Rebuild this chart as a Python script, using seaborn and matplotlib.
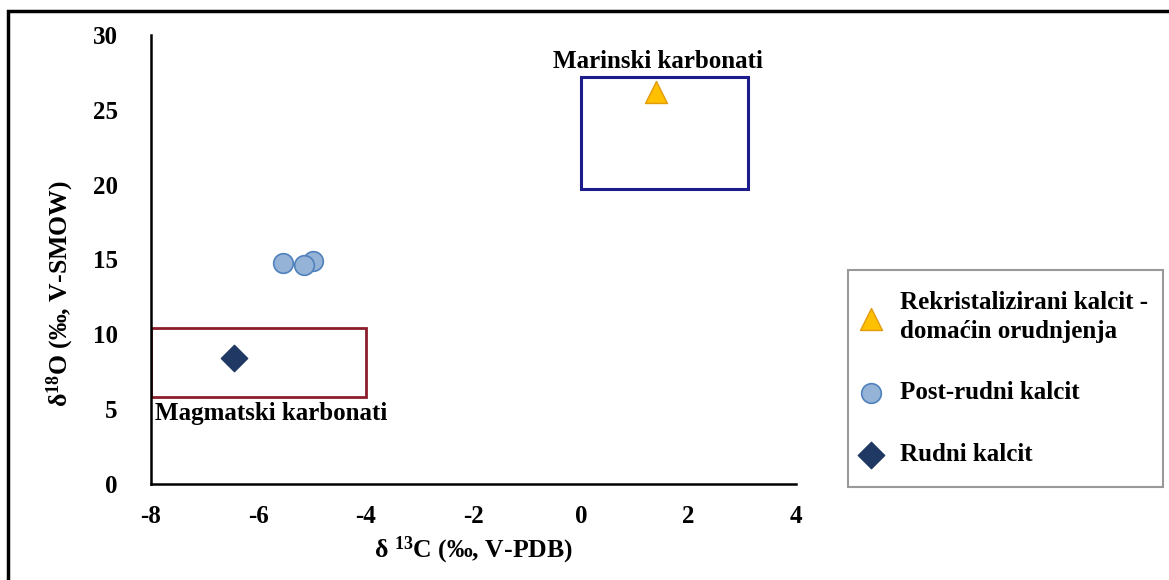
import matplotlib
matplotlib.use("Agg")
import matplotlib.pyplot as plt
import seaborn as sns
from matplotlib.patches import Rectangle

# values
recryst_c = [1.4]
recryst_o = [26.2]
post_c = [-5.55, -4.98, -5.15]
post_o = [14.75, 14.9, 14.65]
ore_c = [-6.45]
ore_o = [8.4]

labels = ["Rekristalizirani kalcit -\ndomaćin orudnjenja", "Post-rudni kalcit", "Rudni kalcit"]

# reference fields (d13C range, d18O range)
marine_c = [0.0, 3.1]
marine_o = [19.7, 27.2]
magmatic_c = [-8.0, -4.0]
magmatic_o = [5.8, 10.4]

x_ticks = [-8, -6, -4, -2, 0, 2, 4]
y_ticks = [0, 5, 10, 15, 20, 25, 30]

sns.set_style("white")
plt.rcParams["font.family"] = ["Liberation Serif", "DejaVu Serif"]
plt.rcParams["font.weight"] = "bold"
plt.rcParams["mathtext.fontset"] = "custom"
plt.rcParams["mathtext.rm"] = "Liberation Serif:bold"
plt.rcParams["mathtext.bf"] = "Liberation Serif:bold"
plt.rcParams["mathtext.it"] = "Liberation Serif:bold"
plt.rcParams["mathtext.default"] = "rm"
for key in ["text.color", "axes.labelcolor", "xtick.color", "ytick.color"]:
    plt.rcParams[key] = "black"

fig = plt.figure(figsize=(11.69, 5.80), dpi=100)
ax = fig.add_axes([151 / 1169, 1 - 484 / 580, 645 / 1169, 449 / 580])

# field boxes
ax.add_patch(Rectangle((magmatic_c[0], magmatic_o[0]), magmatic_c[1] - magmatic_c[0],
                       magmatic_o[1] - magmatic_o[0], fill=False, edgecolor="#8B1E2B", lw=2, zorder=2))
ax.add_patch(Rectangle((marine_c[0], marine_o[0]), marine_c[1] - marine_c[0],
                       marine_o[1] - marine_o[0], fill=False, edgecolor="#1C1C8C", lw=2.2, zorder=2))

sns.scatterplot(x=recryst_c, y=recryst_o, marker="^", s=250, color="#FFC000",
                edgecolor="#E39B0C", linewidth=1, label=labels[0], ax=ax, zorder=3)
sns.scatterplot(x=post_c, y=post_o, marker="o", s=200, color="#95B3D7",
                edgecolor="#4F81BD", linewidth=1.2, label=labels[1], ax=ax, zorder=3)
sns.scatterplot(x=ore_c, y=ore_o, marker="D", s=180, color="#1F3864",
                edgecolor="#1F3864", linewidth=1, label=labels[2], ax=ax, zorder=3)

ax.text(1.43, 28.2, "Marinski karbonati", ha="center", va="center", fontsize=18, fontweight="bold")
ax.text(-7.93, 4.74, "Magmatski karbonati", ha="left", va="center", fontsize=18, fontweight="bold")

ax.set_xlim(-8, 4)
ax.set_ylim(0, 30)
ax.set_xticks(x_ticks)
ax.set_yticks(y_ticks)
ax.set_xticklabels([str(v) for v in x_ticks])
ax.set_yticklabels([str(v) for v in y_ticks])
ax.tick_params(axis="x", direction="out", length=5, width=1.5, pad=10, labelsize=18)
ax.tick_params(axis="y", length=0, pad=24, labelsize=18)
for lab in ax.get_xticklabels() + ax.get_yticklabels():
    lab.set_fontweight("bold")

for side in ["top", "right"]:
    ax.spines[side].set_visible(False)
for side in ["left", "bottom"]:
    ax.spines[side].set_linewidth(1.8)
    ax.spines[side].set_color("black")

ax.set_xlabel("δ $^{13}$C (‰, V-PDB)", fontsize=18.5, fontweight="bold")
ax.set_ylabel("δ$^{18}$O (‰, V-SMOW)", fontsize=18.5, fontweight="bold")
ax.xaxis.set_label_coords(0.5, -0.147)
ax.xaxis.label.set_va("center")
ax.yaxis.set_label_coords(-0.141, 0.425)
ax.yaxis.label.set_va("center")

leg = ax.legend(loc="upper left", mode="expand",
                bbox_to_anchor=(848 / 1169, 1 - 270 / 580, 315 / 1169, 0.0),
                bbox_transform=fig.transFigure, frameon=True, fancybox=False, borderaxespad=0,
                prop={"family": "Liberation Serif", "weight": "bold", "size": 18},
                handlelength=0.1, handletextpad=1.15, borderpad=0.85, labelspacing=1.55)
leg.get_frame().set_edgecolor("#808080")
leg.get_frame().set_linewidth(1.5)
for t in leg.get_texts():
    t.set_linespacing(1.3)

# outer chart border
fig.patches.append(Rectangle((8 / 1169, -0.05), 1.1, 1.05 - 11 / 580, transform=fig.transFigure,
                             fill=False, edgecolor="black", lw=2.5, zorder=0))

fig.savefig("out.png", dpi=100)
